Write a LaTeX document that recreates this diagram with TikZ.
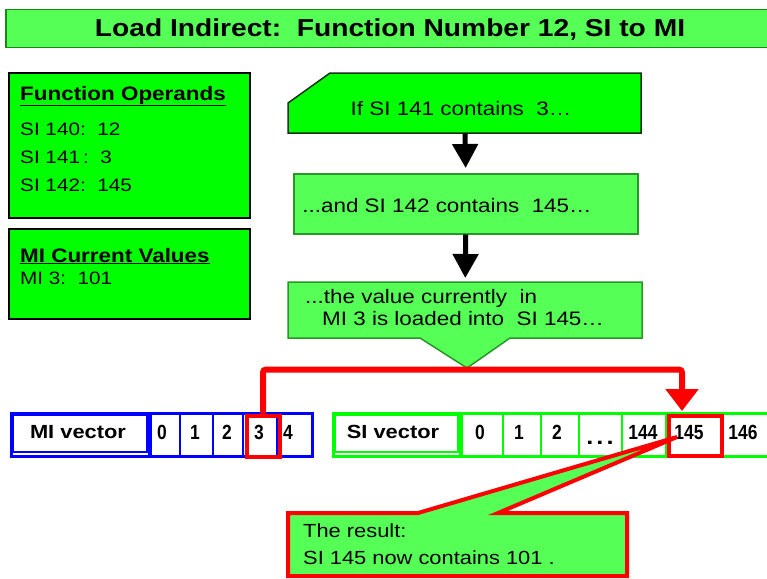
\documentclass[tikz,border=0pt]{standalone}
\usepackage{fontspec}
\usepackage{graphicx}
\setmainfont[FakeStretch=1.15]{Liberation Sans}
\newfontfamily\cond[FakeStretch=0.85]{Liberation Sans}
\usetikzlibrary{arrows.meta}
\definecolor{lgreen}{RGB}{85,255,85}
\definecolor{pgreen}{RGB}{0,255,0}
\definecolor{bgreen}{RGB}{40,150,40}
\definecolor{tgreen}{RGB}{20,140,20}
\definecolor{dborder}{RGB}{20,50,20}
\definecolor{mblue}{RGB}{0,0,255}
\definecolor{mred}{RGB}{255,0,0}
\begin{document}
\begin{tikzpicture}[x=1pt,y=-1pt,
  every node/.style={inner sep=0pt},
  lbl/.style={anchor=base west, font=\fontsize{18}{20}\selectfont},
  head/.style={anchor=base west, font=\fontsize{19.5}{22}\selectfont\bfseries},
  flowtxt/.style={font=\fontsize{19.5}{22}\selectfont},
  cell/.style={anchor=base, font=\cond\bfseries\fontsize{20.5}{22}\selectfont},
  veclbl/.style={anchor=base, font=\fontsize{19}{21}\selectfont\bfseries},
  opbox/.style={draw=black, fill=pgreen, line width=1.5, anchor=north west},
  flowbox/.style={draw=bgreen, fill=lgreen, line width=1.5, anchor=north west},
  blackarrow/.style={line width=5, -{Triangle[length=24pt,width=25pt]}},
  hilite/.style={draw=mred, line width=4, anchor=north west},
]
\clip (0,0) rectangle (767,578);
\fill[white] (0,0) rectangle (767,578);

% title
\node[draw=tgreen, fill=lgreen, line width=1.5, minimum width=775, minimum height=38, anchor=north west] (titlebox) at (5,9) {};
\node[anchor=base, font=\fontsize{24.5}{26}\selectfont\bfseries] (title) at (390,37) {Load Indirect:\ \ Function Number 12, SI to MI};

% operand boxes
\node[opbox, minimum width=241, minimum height=145] (ops) at (8,72) {};
\node[head] (opsh) at (20,100) {\underline{Function Operands}};
\node[lbl] (op1) at (20,135) {SI 140:\ \ 12};
\node[lbl] (op2) at (20,163) {SI 141\,:\ \ 3};
\node[lbl] (op3) at (20,191) {SI 142:\ \ 145};

\node[opbox, minimum width=241, minimum height=90] (mis) at (8,228) {};
\node[head] (mish) at (20,262) {\underline{MI Current Values}};
\node[lbl] (mis1) at (20,284) {MI 3:\ \ 101};

% flow box 1 (card)
\draw[fill=pgreen, draw=dborder, line width=1.5] (288,103) -- (330,73) -- (641,73) -- (641,133) -- (288,133) -- cycle;
\node[flowtxt, anchor=base] (f1) at (461,115) {If SI 141 contains\ \ 3…};
\coordinate (f1s) at (465,133);

% flow box 2
\node[flowbox, minimum width=344, minimum height=60] (f2) at (293,173) {};
\node[flowtxt, anchor=base] (f2t) at (447,212) {...and SI 142 contains\ \ 145…};

% flow box 3 (callout)
\draw[fill=lgreen, draw=bgreen, line width=1.5] (288,282) -- (642,282) -- (642,338) -- (510,338) -- (467,368) -- (420,338) -- (288,338) -- cycle;
\node[minimum width=354, minimum height=56, anchor=north west] (f3) at (288,282) {};
\node[flowtxt, anchor=base west] (f3a) at (305,303) {...the value currently\ \ in};
\node[flowtxt, anchor=base west] (f3b) at (322,325) {MI 3 is loaded into\ \ SI 145…};

\draw[blackarrow, shorten >=5pt] (f1s) -- (f2.north);
\draw[blackarrow, shorten >=4pt] (f2.south) -- (f3.north);

% MI vector
\node[draw=mblue, fill=white, line width=3, minimum width=301, minimum height=43, anchor=north west] (mivec) at (10,412) {};
\draw[mblue, line width=1.5] (13,415) rectangle (147,452);
\draw[mblue, line width=4] (150,412) -- (150,455);
\foreach \xx in {180,213,243,277} \draw[mblue, line width=1.5] (\xx,412) -- (\xx,455);
\node[veclbl] (mil) at (78,438) {MI vector};
\node[cell] (mi0) at (162,439) {0};
\node[cell] (mi1) at (195,439) {1};
\node[cell] (mi2) at (227,439) {2};
\node[cell] (mi3t) at (259,439) {3};
\node[cell] (mi4) at (288,439) {4};
\node[hilite, minimum width=33, minimum height=41] (mi3) at (244.5,413.5) {};

% SI vector
\node[draw=pgreen, fill=white, line width=3, minimum width=445, minimum height=43, anchor=north west] (sivec) at (332,412) {};
\draw[pgreen, line width=1.5] (335,415) rectangle (458,452);
\draw[pgreen, line width=4] (461,412) -- (461,455);
\foreach \xx in {503,541,579,622,666,722} \draw[pgreen, line width=1.5] (\xx,412) -- (\xx,455);
\node[veclbl] (sil) at (393,438) {SI vector};
\node[cell] (si0) at (480,439) {0};
\node[cell] (si1) at (519,439) {1};
\node[cell] (si2) at (557,439) {2};
\node[anchor=base, font=\fontsize{22}{24}\selectfont\bfseries] (sidots) at (600,444) {.\hspace{3pt}.\hspace{3pt}.};
\node[cell] (si144) at (643,439) {144};
\node[cell] (si145t) at (689,439) {145};
\node[cell] (si146) at (743,439) {146};
\node[hilite, minimum width=53, minimum height=40] (si145) at (667,413.5) {};

% red connector
\coordinate (tgt) at (682,411);
\draw[mred, line width=6, rounded corners=3, -{Triangle[length=22pt,width=32pt]}] (mi3.north) -- ++(0,-44) -| (tgt);

% result callout
\draw[mred, line width=4, fill=lgreen] (288,576) -- (288,513) -- (418,513) -- (677,437) -- (498,513) -- (627,513) -- (627,576) -- cycle;
\node[anchor=base west, font=\fontsize{19}{21}\selectfont] (res1) at (303,537) {The result:};
\node[anchor=base west, font=\fontsize{19}{21}\selectfont] (res2) at (303,564) {SI 145 now contains 101 .};
\end{tikzpicture}
\end{document}
